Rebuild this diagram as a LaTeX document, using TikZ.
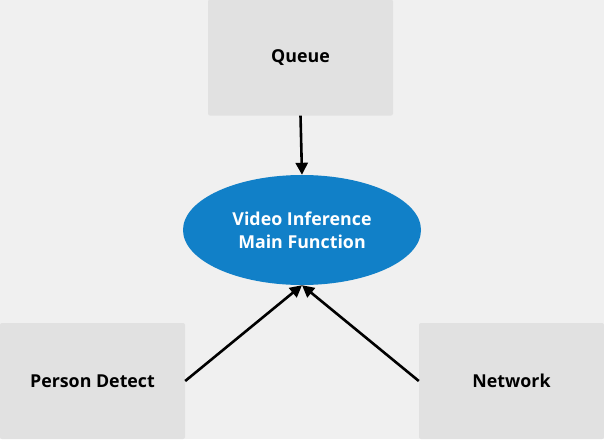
\documentclass[tikz,border=0pt]{standalone}
\usepackage{fontspec}
\setmainfont{Open Sans}
\usetikzlibrary{shapes.geometric,arrows.meta}
\definecolor{bgc}{HTML}{F0F0F0}
\definecolor{boxc}{HTML}{E1E1E1}
\definecolor{ellc}{HTML}{1180C8}
\tikzset{
  boxnode/.style={fill=boxc, rounded corners=2pt, minimum width=185pt, minimum height=116pt, inner sep=0pt, font=\fontsize{17.8}{21}\selectfont\bfseries, text=black},
  ellnode/.style={ellipse, fill=ellc, minimum width=238pt, minimum height=110pt, inner sep=0pt, font=\fontsize{17.8}{23}\selectfont\bfseries, text=white, align=center},
  conn/.style={line width=2.6pt, -{Triangle[length=12pt,width=12pt]}, draw=black}
}
\begin{document}
\begin{tikzpicture}[x=1pt,y=-1pt]
\fill[bgc] (0,0) rectangle (604,439);
\useasboundingbox (0,0) rectangle (604,439);
\node[boxnode] (queue) at (300.5,57.5) {Queue};
\node[boxnode] (person) at (92.5,381) {Person Detect};
\node[boxnode] (network) at (511.5,381) {Network};
\node[ellnode] (main) at (302,230) {Video Inference\\Main Function};
\draw[conn] (queue.south) -- (main.north);
\draw[conn] (person.east) -- (main.south);
\draw[conn] (network.west) -- (main.south);
\end{tikzpicture}
\end{document}
